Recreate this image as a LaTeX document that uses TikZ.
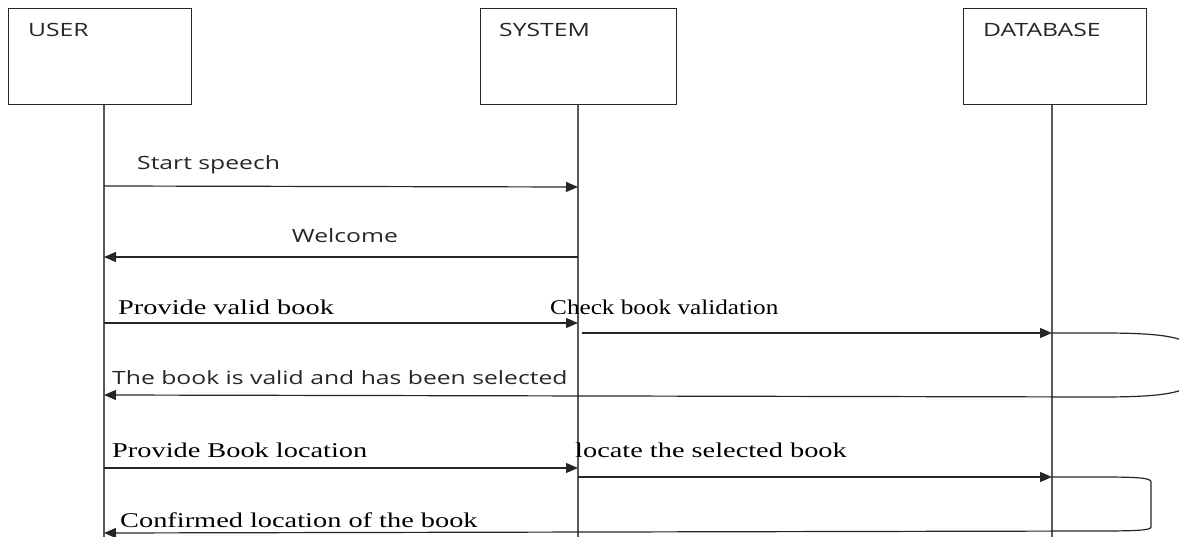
\documentclass[tikz,border=0pt]{standalone}
\usepackage{fontspec}
\setmainfont[FakeStretch=1.35]{Liberation Serif}
\newfontfamily\serifn[FakeStretch=1.2]{Liberation Serif}
\newfontfamily\sansf[FakeStretch=1.35]{Open Sans}
\usetikzlibrary{arrows.meta}
\begin{document}
\begin{tikzpicture}[x=1pt,y=-1pt,
  obj/.style={draw=black!85, line width=1.2pt, minimum width=183pt, minimum height=96pt, anchor=north west, inner sep=0pt},
  life/.style={draw=black!65, line width=1.6pt},
  msgline/.style={draw=black!85, line width=1.2pt},
  msg/.style={msgline, -{Triangle[length=12pt,width=10pt]}},
  slab/.style={font=\sansf\fontsize{18.3}{20}\selectfont, anchor=base west, inner sep=0pt, text=black!85},
  rlab/.style={font=\fontsize{21}{24}\selectfont, anchor=base west, inner sep=0pt},
]
\useasboundingbox (0,0) rectangle (1179,537);
\clip (0,0) rectangle (1179,537);
% objects
\node[obj] (user) at (8,8) {};
\node[obj, minimum width=196pt] (system) at (480,8) {};
\node[obj] (db) at (963,8) {};
\node[slab] (userl) at (28,37) {USER};
\node[slab] (systeml) at (499,37) {SYSTEM};
\node[slab] (dbl) at (983,37) {DATABASE};
% lifelines
\coordinate (uend) at (104,540);
\coordinate (send) at (578,540);
\coordinate (dend) at (1052,540);
\draw[life] (user.south -| uend) -- (uend);
\draw[life] (system.south -| send) -- (send);
\draw[life] (db.south -| dend) -- (dend);
% message points
\coordinate (m1s) at (104,186); \coordinate (m1e) at (578,187);
\coordinate (m2s) at (578,257); \coordinate (m2e) at (104,257);
\coordinate (m3s) at (104,323); \coordinate (m3e) at (578,323);
\coordinate (m4s) at (582,333); \coordinate (m4e) at (1052,333);
\coordinate (m5e) at (104,395);
\coordinate (m6s) at (104,468); \coordinate (m6e) at (578,468);
\coordinate (m7s) at (578,477); \coordinate (m7e) at (1052,477);
\coordinate (m8e) at (104,533);
% messages
\draw[msg] (m1s) -- (m1e);
\draw[msg] (m2s) -- (m2e);
\draw[msg] (m3s) -- (m3e);
\draw[msg] (m4s) -- (m4e);
\draw[msg] (m4e) -- (1100,333) .. controls (1175,333) and (1200,338) .. (1200,365)
  .. controls (1200,392) and (1175,397) .. (1100,397) -- (m5e);
\draw[msg] (m6s) -- (m6e);
\draw[msg] (m7s) -- (m7e);
\draw[msg] (m7e) -- (1100,477) .. controls (1140,477) and (1151,478) .. (1151,482)
  -- (1151,527) .. controls (1151,530) and (1140,531) .. (1100,531) -- (m8e);
% labels
\node[slab] (t1) at (137,170) {Start speech};
\node[slab, anchor=base] (t2) at (345,243) {Welcome};
\node[rlab] (t3) at (118,315) {Provide valid book};
\node[rlab, font=\serifn\fontsize{21}{24}\selectfont] (t4) at (550,315) {Check book validation};
\node[slab] (t5) at (112,385) {The book is valid and has been selected};
\node[rlab] (t6) at (112,457) {Provide Book location};
\node[rlab] (t7) at (575,457) {locate the selected book};
\node[rlab] (t8) at (120,527) {Confirmed location of the book};
\end{tikzpicture}
\end{document}
